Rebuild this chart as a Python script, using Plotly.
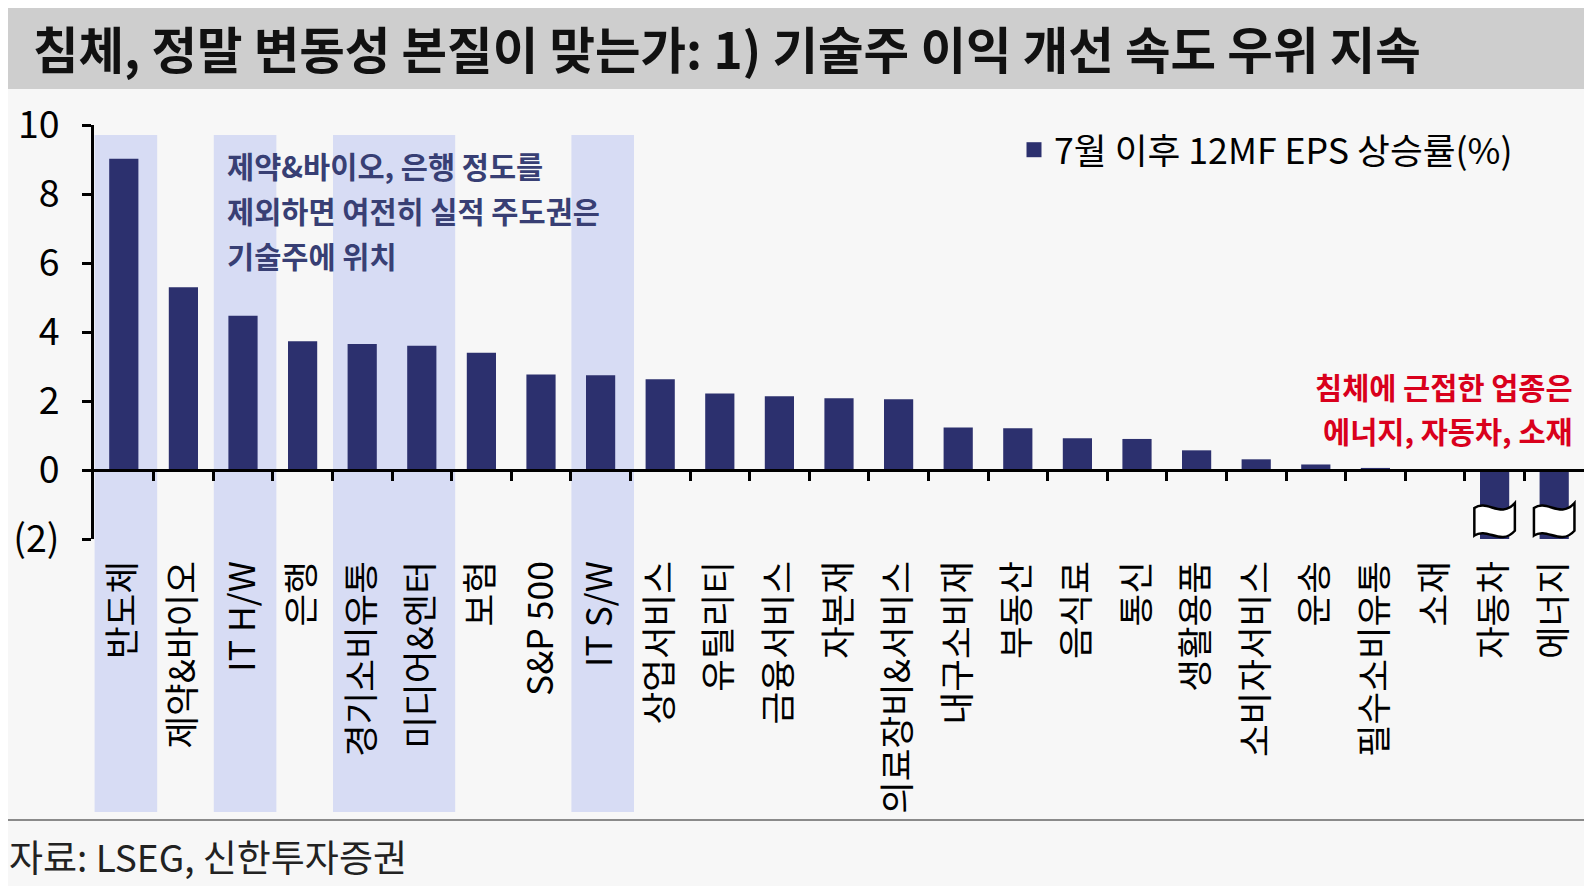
import plotly.graph_objects as go

# ---------------- data ----------------
categories = ["반도체", "제약&바이오", "IT H/W", "은행", "경기소비유통", "미디어&엔터", "보험",
              "S&P 500", "IT S/W", "상업서비스", "유틸리티", "금융서비스", "자본재",
              "의료장비&서비스", "내구소비재", "부동산", "음식료", "통신", "생활용품",
              "소비자서비스", "운송", "필수소비유통", "소재", "자동차", "에너지"]
eps_growth = [9.02, 5.30, 4.47, 3.73, 3.65, 3.60, 3.40, 2.77, 2.75, 2.63, 2.22, 2.14, 2.08,
              2.05, 1.23, 1.21, 0.92, 0.90, 0.57, 0.31, 0.16, 0.06, 0.0, -2.2, -2.2]
highlighted = ["반도체", "IT H/W", "경기소비유통", "미디어&엔터", "IT S/W"]
series_name = "7월 이후 12MF EPS 상승률(%)"
y_tickvals = [-2, 0, 2, 4, 6, 8, 10]
y_ticktext = ["(2)", "0", "2", "4", "6", "8", "10"]
Y_MIN, Y_MAX = -2, 10

title_text = "침체, 정말 변동성 본질이 맞는가: 1) 기술주 이익 개선 속도 우위 지속"
note_blue = ["제약&바이오, 은행 정도를", "제외하면 여전히 실적 주도권은", "기술주에 위치"]
note_red = ["침체에 근접한 업종은", "에너지, 자동차, 소재"]
source_text = "자료: LSEG, 신한투자증권"

# ---------------- style ----------------
FONT = "Noto Sans CJK KR"
BAR = "#2c306e"
BAND = "#d7dcf4"
BG = "#f7f7f7"
OFF = 8                      # page body margin in the browser
SCREEN_W, SCREEN_H = 1592, 894
W, H = SCREEN_W - 2 * OFF, SCREEN_H - 2 * OFF
L, R, T, B = 94, 1584, 125, 539   # plot area in screen pixels


def px_x(p):
    return (p - L) / (R - L)


def px_y(p):
    return (B - p) / (B - T)


n = len(categories)
idx = list(range(n))

fig = go.Figure()
fig.add_trace(go.Bar(x=idx, y=eps_growth, name=series_name, marker=dict(color=BAR, line=dict(width=0)),
                     showlegend=False, hoverinfo="skip"))
# legend entry with a larger square symbol
fig.add_trace(go.Scatter(x=[None], y=[None], mode="markers", name=series_name,
                         marker=dict(symbol="square", size=15, color=BAR), showlegend=True))
# helper (invisible) trace so the zero-line tick axis is drawn
fig.add_trace(go.Scatter(x=idx, y=eps_growth, xaxis="x2", mode="markers", marker=dict(opacity=0),
                         showlegend=False, hoverinfo="skip"))

shapes = []
# title bar
shapes.append(dict(type="rect", xref="paper", yref="paper", x0=px_x(5), x1=px_x(1592),
                   y0=px_y(89), y1=px_y(5), fillcolor="#cecece", line=dict(width=0), layer="below"))
# highlight bands
for c in highlighted:
    i = categories.index(c)
    shapes.append(dict(type="rect", xref="x", yref="paper", x0=i - 0.49, x1=i + 0.56,
                       y0=px_y(812), y1=px_y(135), fillcolor=BAND, line=dict(width=0), layer="below"))
# footer separator
shapes.append(dict(type="line", xref="paper", yref="paper", x0=px_x(5), x1=px_x(1592),
                   y0=px_y(820), y1=px_y(820), line=dict(color="#8a8a8a", width=2)))
# axis-break symbols on bars running below the axis minimum
for i, v in enumerate(eps_growth):
    if v < Y_MIN:
        w = 0.34
        p = (f"M {i-w},-1.1 C {i-0.12},-0.84 {i+0.1},-1.42 {i+w},-0.96 "
             f"L {i+w},-1.76 C {i+0.1},-2.22 {i-0.12},-1.64 {i-w},-1.9 Z")
        shapes.append(dict(type="path", xref="x", yref="y", path=p, fillcolor="white",
                           line=dict(color="black", width=2.5), layer="above"))

annotations = []
annotations.append(dict(xref="paper", yref="paper", x=px_x(31), y=px_y(47), xanchor="left", yanchor="middle",
                        text=f"<b>{title_text}</b>", showarrow=False,
                        font=dict(family=FONT, size=49.5, color="#111111")))
for k, line in enumerate(note_blue):
    annotations.append(dict(xref="paper", yref="paper", x=px_x(225), y=px_y(165 + 45 * k),
                            xanchor="left", yanchor="middle", text=f"<b>{line}</b>", showarrow=False,
                            font=dict(family=FONT, size=29.5, color="#383f74")))
for k, line in enumerate(note_red):
    annotations.append(dict(xref="paper", yref="paper", x=px_x(1575), y=px_y(386 + 44 * k),
                            xanchor="right", yanchor="middle", text=f"<b>{line}</b>", showarrow=False,
                            font=dict(family=FONT, size=29.5, color="#d9001c")))
annotations.append(dict(xref="paper", yref="paper", x=px_x(7), y=px_y(856), xanchor="left", yanchor="middle",
                        text=source_text, showarrow=False, font=dict(family=FONT, size=37, color="#222222")))

fig.update_layout(
    width=W, height=H,
    margin=dict(l=L - OFF, r=(W + OFF) - R, t=T - OFF, b=(H + OFF) - B, pad=0),
    paper_bgcolor=BG, plot_bgcolor=BG,
    font=dict(family=FONT, color="black"),
    bargap=0.51,
    showlegend=True,
    legend=dict(x=px_x(1014), y=px_y(150), xanchor="left", yanchor="middle",
                bgcolor="rgba(0,0,0,0)", font=dict(family=FONT, size=35.7, color="black"),
                itemwidth=30),
    xaxis=dict(range=[-0.5, n - 0.5], tickvals=idx, ticktext=categories, tickangle=-90,
               showline=False, ticks="", showgrid=False, zeroline=False, ticklabelstandoff=14,
               tickfont=dict(family=FONT, size=35.5, color="black")),
    xaxis2=dict(overlaying="x", anchor="free", position=(0 - Y_MIN) / (Y_MAX - Y_MIN),
                range=[-0.5, n - 0.5], tickvals=[i + 0.5 for i in idx[:-1]],
                ticks="outside", ticklen=9, tickwidth=3, tickcolor="black",
                showticklabels=False, showline=True, linecolor="black", linewidth=3,
                showgrid=False, zeroline=False),
    yaxis=dict(range=[Y_MIN, Y_MAX], tickvals=y_tickvals, ticktext=y_ticktext,
               ticks="outside", ticklen=9, tickwidth=3, tickcolor="black",
               showline=True, linecolor="black", linewidth=3, showgrid=False, zeroline=False,
               ticklabelstandoff=15, tickfont=dict(family=FONT, size=37.5, color="black")),
    shapes=shapes, annotations=annotations,
)

fig.write_html("out.html")
